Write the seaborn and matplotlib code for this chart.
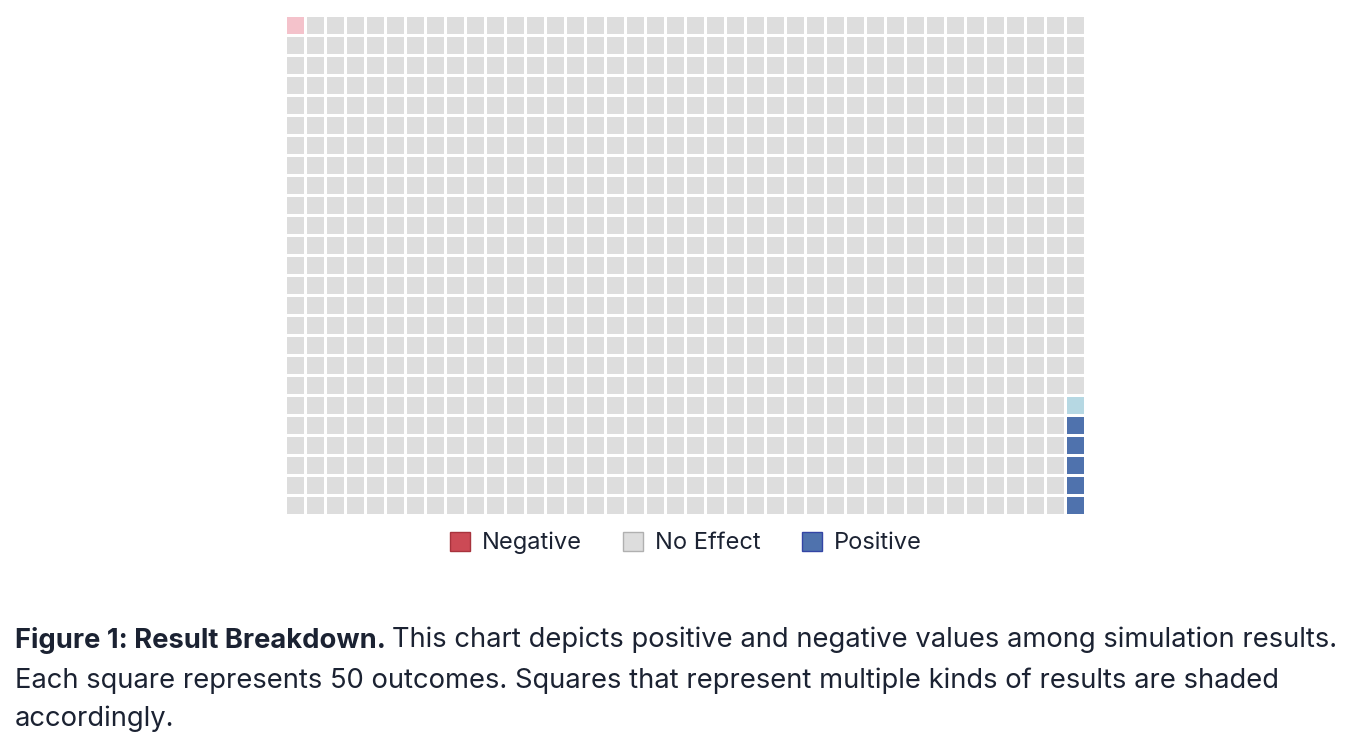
import numpy as np
import pandas as pd
import matplotlib
matplotlib.use("Agg")
import matplotlib.pyplot as plt
from matplotlib.colors import ListedColormap
from matplotlib.patches import Patch
import seaborn as sns

# Data
categories = ["Negative", "No Effect", "Positive"]
outcomes = [20, 49715, 265]          # simulated outcomes per category
per_square = 50
n_rows, n_cols = 25, 40

# codes: 0 neg full, 1 neg partial, 2 no effect, 3 pos partial, 4 pos full
cell_colors = ["#cc4a55", "#f4c2cb", "#dddddd", "#b6d8e3", "#4f72ad"]

neg_sq = outcomes[0] / per_square
pos_sq = outcomes[2] / per_square

flat = np.full(n_rows * n_cols, 2)
# negatives fill from the top-left, row by row
n_full = int(neg_sq)
flat[:n_full] = 0
if neg_sq > n_full:
    flat[n_full] = 1
grid = flat.reshape(n_rows, n_cols)

# positives fill from the bottom-right, going up the column
colmajor = grid.T.flatten()
p_full = int(pos_sq)
end = len(colmajor)
colmajor[end - p_full:] = 4
if pos_sq > p_full:
    colmajor[end - p_full - 1] = 3
grid = colmajor.reshape(n_cols, n_rows).T

df = pd.DataFrame(grid)

sns.set_theme(style="white")
plt.rcParams["font.family"] = ["Inter", "DejaVu Sans"]
text_color = "#1b2232"

fig = plt.figure(figsize=(13.5, 7.42), dpi=100)
ax = fig.add_axes([285 / 1350, 1 - 515 / 742, 800 / 1350, 500 / 742])
sns.heatmap(df, ax=ax, cmap=ListedColormap(cell_colors), vmin=-0.5, vmax=4.5,
            cbar=False, linewidths=0.8, linecolor="white",
            xticklabels=False, yticklabels=False)

handles = [
    Patch(facecolor="#cc4a55", edgecolor="#a8333d", label="Negative"),
    Patch(facecolor="#dddddd", edgecolor="#b0b0b0", label="No Effect"),
    Patch(facecolor="#4f72ad", edgecolor="#3345a5", label="Positive"),
]
fig.legend(handles=handles, loc="center",
           bbox_to_anchor=(686 / 1350, 1 - 543 / 742), ncol=3, frameon=False,
           fontsize=17, handlelength=0.85, handleheight=0.85, handletextpad=0.5,
           columnspacing=1.75, labelcolor=text_color)

# caption
cap_size = 19.7
bold = fig.text(15 / 1350, 1 - 640 / 742, "Figure 1: Result Breakdown.",
                fontsize=cap_size, fontweight="bold", color=text_color, va="center")
fig.canvas.draw()
bb = bold.get_window_extent()
fig.text((bb.x1 + 6) / 1350, 1 - 640 / 742,
         "This chart depicts positive and negative values among simulation results.",
         fontsize=cap_size, color=text_color, va="center")
fig.text(15 / 1350, 1 - 681 / 742,
         "Each square represents 50 outcomes. Squares that represent multiple kinds of results are shaded",
         fontsize=cap_size, color=text_color, va="center")
fig.text(15 / 1350, 1 - 719 / 742, "accordingly.",
         fontsize=cap_size, color=text_color, va="center")

fig.savefig("out.png", dpi=100)
